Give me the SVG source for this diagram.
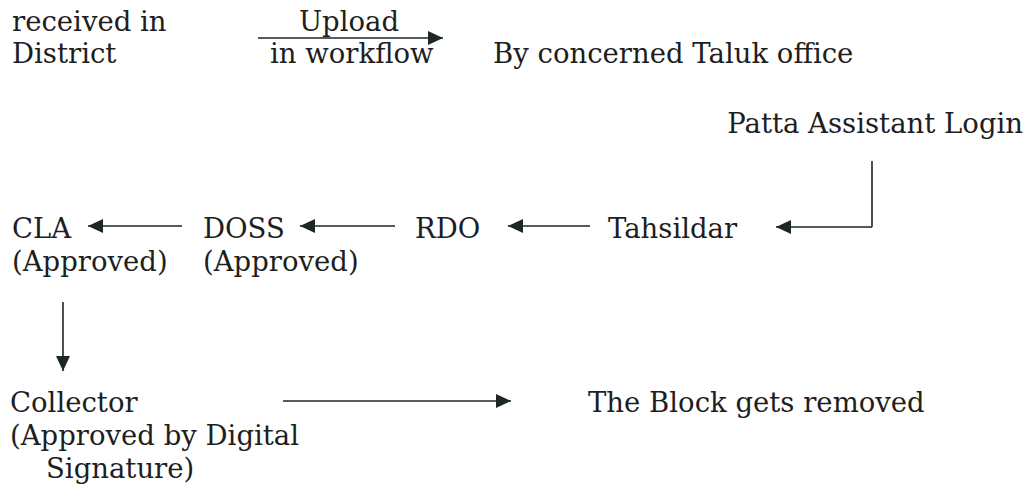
<svg xmlns="http://www.w3.org/2000/svg" width="1032" height="488" viewBox="0 0 1032 488">
<style>
text { font-family: "DejaVu Serif", "Liberation Serif", serif; font-size: 27.5px; fill: #1e1e1e; }
.c { stroke: #1e2626; stroke-width: 1.6; fill: none; marker-end: url(#ah); }
.p { stroke: #1e2626; stroke-width: 1.6; fill: none; }
</style>
<defs>
<marker id="ah" markerUnits="userSpaceOnUse" markerWidth="16" markerHeight="14" refX="15" refY="7" orient="auto">
<path d="M0,0 L15,7 L0,14 Z" fill="#1e2626"/>
</marker>
</defs>
<rect width="1032" height="488" fill="#ffffff"/>
<g id="connectors">
<line class="c" x1="258" y1="38" x2="443" y2="38"/>
<text x="349" y="31" text-anchor="middle">Upload</text>
<text x="270" y="63">in workflow</text>
<polyline class="p" points="872,161 872,227"/>
<line class="c" x1="872" y1="227" x2="776" y2="227"/>
<line class="c" x1="590" y1="226" x2="508" y2="226"/>
<line class="c" x1="395" y1="226" x2="300" y2="226"/>
<line class="c" x1="182" y1="226" x2="88" y2="226"/>
<line class="c" x1="63" y1="302" x2="63" y2="371"/>
<line class="c" x1="283" y1="401" x2="511" y2="401"/>
</g>
<g id="district"><text x="12" y="31">received in</text><text x="12" y="63">District</text></g>
<g id="taluk"><text x="493" y="63">By concerned Taluk office</text></g>
<g id="patta"><text x="1023" y="133" text-anchor="end">Patta Assistant Login</text></g>
<g id="tahsildar"><text x="608" y="238">Tahsildar</text></g>
<g id="rdo"><text x="415" y="238">RDO</text></g>
<g id="doss"><text x="203" y="238">DOSS</text><text x="203" y="271">(Approved)</text></g>
<g id="cla"><text x="12" y="238">CLA</text><text x="12" y="271">(Approved)</text></g>
<g id="collector"><text x="10" y="412">Collector</text><text x="10" y="445">(Approved by Digital</text><text x="46" y="478">Signature)</text></g>
<g id="removed"><text x="588" y="412">The Block gets removed</text></g>
</svg>
